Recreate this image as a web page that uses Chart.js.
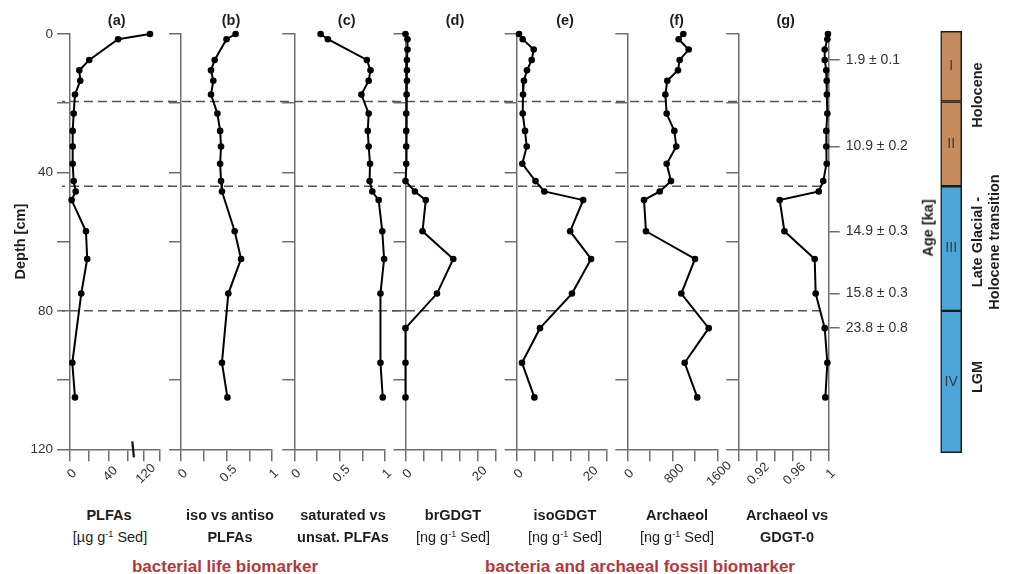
<!DOCTYPE html>
<html><head><meta charset="utf-8">
<script src="https://cdn.jsdelivr.net/npm/chart.js@4.4.1/dist/chart.umd.min.js"></script>
<style>
html,body{margin:0;padding:0;background:#fff}
body{width:1012px;height:574px;position:relative;overflow:hidden;font-family:'Liberation Sans',Arial,sans-serif;color:#1e1e1e}
canvas{position:absolute;top:0}
.tx{position:absolute;white-space:nowrap;transform:translate(-50%,-50%);line-height:1;font-size:14.5px}
.b{font-weight:bold}
.rot{transform:translate(-50%,-50%) rotate(-90deg);text-align:center;line-height:16.5px}
.grp{color:#b0393b;font-weight:bold;font-size:17px}
sup{font-size:9px;vertical-align:5px;line-height:0}
</style></head><body>
<script>
// ---------- DATA ----------
const depths      = [0, 1.5, 4.5, 7.5, 10.5, 13.5, 17.5, 23, 28, 32.5, 37.5, 42.5, 45.5, 48, 57, 65, 75, 85, 95, 105];
const plfa        = [127.5, 50, null, 20, 9.7, 10.7, 5.2, 3.8, 2.8, 2.8, 2.8, 3.8, 5.9, 1.7, 16.6, 17.9, 11.7, null, 2.4, 5.2];
const isoAntiso   = [0.60, 0.50, null, 0.37, 0.33, 0.355, 0.33, 0.40, 0.43, 0.44, 0.43, 0.44, 0.45, null, 0.59, 0.66, 0.52, null, 0.45, 0.51];
const satUnsat    = [0.29, 0.37, null, 0.80, 0.84, 0.82, 0.74, 0.82, 0.81, 0.82, 0.835, 0.83, 0.86, 0.93, 0.97, 0.99, 0.95, null, 0.95, 0.975];
const brGDGT      = [0, 0.55, 0.55, 0.4, 0.4, 0.4, 0.3, 0.2, 0.2, 0.2, 0.2, 0, 2.6, 5.6, 4.7, 13.2, 8.7, 0, 0, 0];
const isoGDGT     = [0.64, 1.66, 4.7, 4.15, 2.85, 2.0, 1.75, 1.66, 2.3, 2.77, 1.56, 5.2, 7.65, 18.4, 14.8, 20.6, 15.3, 6.45, 1.47, 4.9];
const archaeol    = [996, 913, 1091, 931, 901, 711, 676, 700, 836, 871, 700, 777, 576, 297, 332, 1204, 960, 1447, 1020, 1244];
const archGDGT0   = [0.9992, 0.9985, 0.9956, 0.9956, 0.9973, 0.9978, 0.998, 0.9985, 0.9973, 0.9973, 0.9978, 0.994, 0.989, 0.9458, 0.951, 0.9845, 0.9856, 0.9956, 0.9985, 0.9963];

const depthTicks   = [0, 20, 40, 60, 80, 100, 120];
const depthLabeled = [0, 40, 80, 120];
const ticksA = [0, 20, 40, 60, 120, 140],          labA = [0, 40, 120];
const ticksB = [0, 0.25, 0.5, 0.75, 1],            labB = [0, 0.5, 1];
const ticksC = [0, 0.25, 0.5, 0.75, 1],            labC = [0, 0.5, 1];
const ticksD = [0, 5, 10, 15, 20, 25],             labD = [0, 20];
const ticksE = [0, 5, 10, 15, 20, 25],             labE = [0, 20];
const ticksF = [0, 400, 800, 1200, 1600],          labF = [0, 800, 1600];
const ticksG = [0.90, 0.92, 0.94, 0.96, 0.98, 1.00], labG = [0.92, 0.96, 1];

const ageDepths = [7.5, 32.5, 57, 75, 85];
const ageLabels = ['1.9 ± 0.1', '10.9 ± 0.2', '14.9 ± 0.3', '15.8 ± 0.3', '23.8 ± 0.8'];

const boundaryDepths = [19.5, 44, 80];
const unitNames  = ['I', 'II', 'III', 'IV'];
const unitTop    = [-0.8, 19.5, 44, 80];
const unitBottom = [19.5, 44, 80, 121];

// ---------- STYLE / LAYOUT ----------
const AX = '#6e6e6e';
const unitColors = ['#c68b5c', '#c68b5c', '#4da6d9', '#4da6d9'];
const aBreakMap = [[0, 0], [60, 0.641], [120, 0.822], [140, 1]]; // broken axis of panel (a)
const aBreakMarkValue = 80;

Chart.defaults.font.family = "'Liberation Sans', Arial, sans-serif";
Chart.defaults.color = '#333';

class PanelScale extends Chart.LinearScale {
  static id = 'panelLinear';
  static defaults = {};
  _getXAxisLabelAlignment() { return 'center'; }
}
class BrokenScale extends PanelScale {
  static id = 'brokenLinear';
  static defaults = {};
  getPixelForValue(value) {
    const bm = aBreakMap;
    let f = bm[0][1];
    if (value > bm[0][0]) {
      for (let i = 1; i < bm.length; i++) {
        if (value <= bm[i][0] || i === bm.length - 1) {
          const [v0, f0] = bm[i - 1], [v1, f1] = bm[i];
          f = f0 + (value - v0) / (v1 - v0) * (f1 - f0);
          break;
        }
      }
    }
    return this.getPixelForDecimal(f);
  }
}
Chart.register(PanelScale, BrokenScale);

const dashPlugin = {
  id: 'dashLines',
  beforeDatasetsDraw(chart, args, o) {
    const {ctx, chartArea, scales} = chart;
    const x0 = o.from === 'axis' ? chartArea.left - 8 : 0;
    const x1 = o.to === 'end' ? chartArea.right - 6 : chartArea.right + 10;
    ctx.save();
    ctx.setLineDash([9, 5]);
    ctx.lineDashOffset = x0 + o.canvasLeft;
    ctx.strokeStyle = '#555';
    ctx.lineWidth = 1.5;
    for (const d of boundaryDepths) {
      const py = scales.y.getPixelForValue(d);
      ctx.beginPath(); ctx.moveTo(x0, py); ctx.lineTo(x1, py); ctx.stroke();
    }
    ctx.restore();
  }
};
const breakPlugin = {
  id: 'breakMark',
  afterDraw(chart) {
    const {ctx, chartArea, scales} = chart;
    const px = scales.x.getPixelForValue(aBreakMarkValue);
    const by = chartArea.bottom;
    ctx.save(); ctx.strokeStyle = '#111'; ctx.lineWidth = 2.2;
    ctx.beginPath(); ctx.moveTo(px - 0.8, by - 8); ctx.lineTo(px + 0.8, by + 8); ctx.stroke();
    ctx.restore();
  }
};

const panels = [
  {vals: plfa,      ticks: ticksA, lab: labA, min: 0,    max: 140,  axis: 70,    right: 160,   yW: 70, type: 'brokenLinear'},
  {vals: isoAntiso, ticks: ticksB, lab: labB, min: 0,    max: 1,    axis: 181,   right: 272,   yW: 13},
  {vals: satUnsat,  ticks: ticksC, lab: labC, min: 0,    max: 1,    axis: 294.3, right: 385,   yW: 13},
  {vals: brGDGT,    ticks: ticksD, lab: labD, min: 0,    max: 25,   axis: 405.5, right: 496,   yW: 13},
  {vals: isoGDGT,   ticks: ticksE, lab: labE, min: 0,    max: 25,   axis: 516.7, right: 607,   yW: 13},
  {vals: archaeol,  ticks: ticksF, lab: labF, min: 0,    max: 1600, axis: 627.3, right: 717.3, yW: 13},
  {vals: archGDGT0, ticks: ticksG, lab: labG, min: 0.90, max: 1.00, axis: 738.3, right: 828.7, yW: 13, ageW: 100}
];

const CH = 500, XH = CH - 449.3, TOP = 34;

panels.forEach((P, k) => {
  const L = Math.floor(P.axis - P.yW);
  const yW = P.axis - L;
  const plotW = P.right - P.axis;
  const rightW = P.ageW || 14;
  const W = Math.ceil(yW + plotW + rightW);
  const cv = document.createElement('canvas');
  cv.width = W; cv.height = CH; cv.style.left = L + 'px';
  document.body.appendChild(cv);

  const gridOpts = (tl) => ({display: true, drawOnChartArea: false, drawTicks: true, tickLength: tl, color: AX, lineWidth: 1.5, tickWidth: 1.5});
  const scales = {
    x: {
      type: P.type || 'panelLinear', position: 'bottom', min: P.min, max: P.max,
      afterBuildTicks: s => { s.ticks = P.ticks.map(v => ({value: v})); },
      afterFit: s => { s.height = XH; s.paddingLeft = 0; s.paddingRight = 0; },
      grid: gridOpts(12), border: {display: true, color: AX, width: 1.5},
      ticks: {autoSkip: false, maxRotation: 45, minRotation: 45, padding: 7, labelOffset: 2,
              font: {size: 13}, color: '#333',
              callback: v => P.lab.includes(v) ? String(v) : ''}
    },
    y: {
      type: 'linear', position: 'left', reverse: true, min: 0, max: 120,
      afterBuildTicks: s => { s.ticks = depthTicks.map(v => ({value: v})); },
      afterFit: s => { s.width = yW; s.paddingTop = 0; s.paddingBottom = 0; },
      grid: gridOpts(k === 0 ? 13 : 12), border: {display: true, color: AX, width: 1.5},
      ticks: {autoSkip: false, padding: 4, font: {size: 13.5}, color: '#333',
              callback: v => (k === 0 && depthLabeled.includes(v)) ? String(v) : ''},
      title: k === 0 ? {display: true, text: 'Depth [cm]', font: {size: 14.5, weight: 'bold'}, color: '#1e1e1e', padding: {top: 12, bottom: 0}} : {display: false}
    }
  };
  if (P.ageW) {
    scales.age = {
      type: 'linear', position: 'right', reverse: true, min: 0, max: 120,
      afterBuildTicks: s => { s.ticks = ageDepths.map(v => ({value: v})); },
      afterFit: s => { s.width = W - yW - plotW; s.paddingTop = 0; s.paddingBottom = 0; },
      grid: gridOpts(11), border: {display: true, color: AX, width: 1.5},
      ticks: {autoSkip: false, padding: 6, font: {size: 14}, color: '#333', callback: (v, i) => ageLabels[i]}
    };
  }
  const pts = [];
  depths.forEach((d, i) => { if (P.vals[i] !== null) pts.push({x: P.vals[i], y: d}); });

  new Chart(cv, {
    type: 'scatter',
    data: {datasets: [{data: pts, showLine: true, borderColor: '#000', borderWidth: 2, tension: 0,
                       pointRadius: 3.3, pointBackgroundColor: '#000', pointBorderWidth: 0, clip: false, yAxisID: 'y'}]},
    options: {
      responsive: false, animation: false, devicePixelRatio: 1,
      layout: {padding: {top: TOP, bottom: 0, left: 0, right: P.ageW ? 0 : W - yW - plotW}},
      events: [],
      plugins: {legend: {display: false}, tooltip: {enabled: false},
                dashLines: {from: k === 0 ? 'axis' : 'start', to: P.ageW ? 'end' : 'next', canvasLeft: L}},
      scales
    },
    plugins: k === 0 ? [dashPlugin, breakPlugin] : [dashPlugin]
  });
});

// stratigraphic units bar
(function () {
  const L = 930, W = 42;
  const cv = document.createElement('canvas');
  cv.width = W; cv.height = CH; cv.style.left = L + 'px';
  document.body.appendChild(cv);
  const romanPlugin = {
    id: 'roman',
    afterDatasetsDraw(chart) {
      const ctx = chart.ctx;
      ctx.save(); ctx.fillStyle = '#3a3a3a'; ctx.font = "14px 'Liberation Sans', Arial, sans-serif";
      ctx.textAlign = 'center'; ctx.textBaseline = 'middle';
      unitNames.forEach((n, i) => {
        const el = chart.getDatasetMeta(i).data[0];
        ctx.fillText(n, el.x, (el.y + el.base) / 2);
      });
      ctx.restore();
    }
  };
  new Chart(cv, {
    type: 'bar',
    data: {labels: ['Unit'], datasets: unitNames.map((n, i) => ({
      label: n, data: [[unitTop[i], unitBottom[i]]], backgroundColor: unitColors[i],
      borderColor: '#1a1a1a', borderWidth: 1.5, borderSkipped: false, grouped: false,
      barPercentage: 1, categoryPercentage: 1, clip: false}))},
    options: {
      responsive: false, animation: false, devicePixelRatio: 1, events: [],
      layout: {padding: {left: 10.7, right: 10.3, top: TOP, bottom: XH}},
      scales: {x: {display: false}, y: {display: false, reverse: true, min: 0, max: 120}},
      plugins: {legend: {display: false}, tooltip: {enabled: false}}
    },
    plugins: [romanPlugin]
  });
})();
</script>

<div class="tx b" style="left:116.7px;top:20px">(a)</div>
<div class="tx b" style="left:231px;top:20px">(b)</div>
<div class="tx b" style="left:346.7px;top:20px">(c)</div>
<div class="tx b" style="left:455px;top:20px">(d)</div>
<div class="tx b" style="left:565px;top:20px">(e)</div>
<div class="tx b" style="left:676.7px;top:20px">(f)</div>
<div class="tx b" style="left:785.7px;top:20px">(g)</div>

<div class="tx b" style="left:109px;top:515px">PLFAs</div>
<div class="tx" style="left:110px;top:537px">[µg g<sup>-1</sup> Sed]</div>
<div class="tx b" style="left:230px;top:515px">iso vs antiso</div>
<div class="tx b" style="left:230px;top:537px">PLFAs</div>
<div class="tx b" style="left:343px;top:515px">saturated vs</div>
<div class="tx b" style="left:343px;top:537px">unsat. PLFAs</div>
<div class="tx b" style="left:453px;top:515px">brGDGT</div>
<div class="tx" style="left:453px;top:537px">[ng g<sup>-1</sup> Sed]</div>
<div class="tx b" style="left:565px;top:515px">isoGDGT</div>
<div class="tx" style="left:565px;top:537px">[ng g<sup>-1</sup> Sed]</div>
<div class="tx b" style="left:677px;top:515px">Archaeol</div>
<div class="tx" style="left:677px;top:537px">[ng g<sup>-1</sup> Sed]</div>
<div class="tx b" style="left:787px;top:515px">Archaeol vs</div>
<div class="tx b" style="left:787px;top:537px">GDGT-0</div>

<div class="tx grp" style="left:225px;top:566px">bacterial life biomarker</div>
<div class="tx grp" style="left:640px;top:566px">bacteria and archaeal fossil biomarker</div>

<div class="tx b rot" style="left:928px;top:228px">Age [ka]</div>
<div class="tx b rot" style="left:977px;top:95px">Holocene</div>
<div class="tx b rot" style="left:985px;top:242px">Late Glacial -<br>Holocene transition</div>
<div class="tx b rot" style="left:977px;top:377px">LGM</div>
</body></html>
